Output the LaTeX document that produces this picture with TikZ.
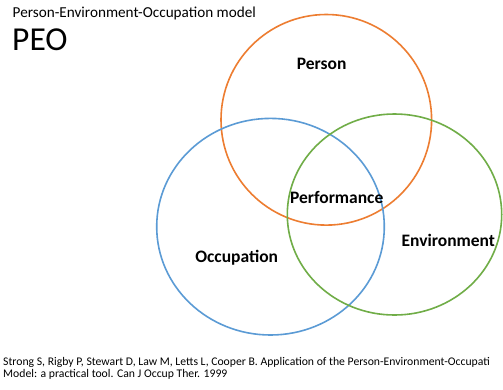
\documentclass[tikz,border=0pt]{standalone}
\usepackage{fontspec}
\setmainfont{Carlito}
\definecolor{peoorange}{HTML}{ED7D31}
\definecolor{peoblue}{HTML}{5B9BD5}
\definecolor{peogreen}{HTML}{70AD47}
\begin{document}
\begin{tikzpicture}[x=1pt,y=-1pt,
  ring/.style={line width=1.6pt},
  setlabel/.style={font=\fontsize{17.5}{19}\selectfont\bfseries, inner sep=0pt},
  heading/.style={anchor=base west, inner sep=0pt},
  refline/.style={heading, font=\fontsize{11.7}{13}\selectfont}]
  \useasboundingbox (0,0) rectangle (503,389);
  \fill[white] (0,0) rectangle (503,389);
  % title
  \node[heading, font=\fontsize{15.2}{17}\selectfont] (title) at (12.5,17.5) {Person-Environment-Occupation model};
  \node[heading, font=\fontsize{33.5}{36}\selectfont] (peo) at (12,50) {PEO};
  % the three overlapping domains
  \draw[ring, peoorange] (326.3,119.8) ellipse [x radius=105.3pt, y radius=105.3pt];
  \draw[ring, peoblue] (270.5,226.7) ellipse [x radius=113.8pt, y radius=108.3pt];
  \draw[ring, peogreen] (394.5,214.5) ellipse [x radius=107.2pt, y radius=100.5pt];
  % domain labels
  \node[setlabel] (person) at (321.7,64.3) {Person};
  \node[setlabel] (performance) at (336.7,197.3) {Performance};
  \node[setlabel] (occupation) at (236.7,257.3) {Occupation};
  \node[setlabel] (environment) at (448.3,240) {Environment};
  % reference
  \node[refline] (ref1) at (3,365.5) {Strong S, Rigby P, Stewart D, Law M, Letts L, Cooper B. Application of the Person-Environment-Occupati};
  \node[refline] (ref2) at (3,377.5) {Model: a practical tool. Can J Occup Ther. 1999};
\end{tikzpicture}
\end{document}
